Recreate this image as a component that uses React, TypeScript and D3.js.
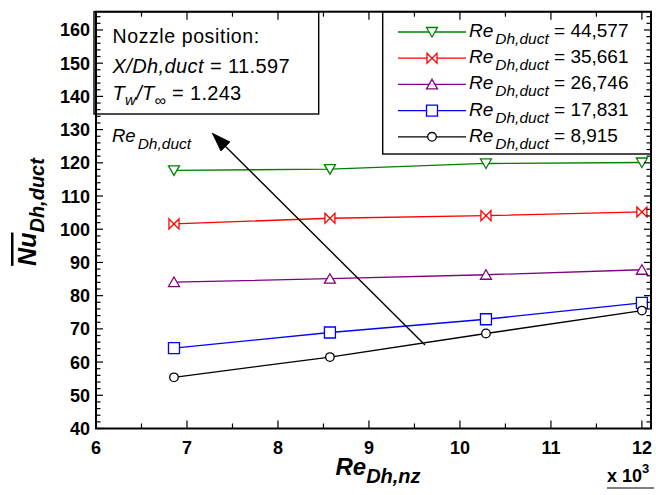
import React from "react";
import * as d3 from "d3";

const reNz = [6.857, 8.571, 10.286, 12.0];
const nu44577 = [117.7, 118.1, 119.8, 120.1];
const nu35661 = [101.6, 103.3, 104.1, 105.2];
const nu26746 = [84.1, 85.1, 86.3, 87.8];
const nu17831 = [64.2, 68.9, 72.9, 77.8];
const nu8915 = [55.4, 61.5, 68.6, 75.5];

const seriesLabels = ["44,577", "35,661", "26,746", "17,831", "8,915"];
const seriesColors = ["#008000", "#ff0000", "#800080", "#0000ff", "#000000"];
const seriesMarkers = ["triDown", "bowtie", "triUp", "square", "circle"];
const seriesValues = [nu44577, nu35661, nu26746, nu17831, nu8915];

const xTicks = [6, 7, 8, 9, 10, 11, 12];
const xMinor = [6.5, 7.5, 8.5, 9.5, 10.5, 11.5];
const yTicks = [40, 50, 60, 70, 80, 90, 100, 110, 120, 130, 140, 150, 160];
const yMinor = d3.range(40, 166, 2).filter((v) => v % 10 !== 0);

const FONT = "Arial, 'Liberation Sans', Helvetica, sans-serif";

function markerPath(kind: string): string {
  switch (kind) {
    case "triDown":
      return "M-5.5,-4.5L5.5,-4.5L0,5Z";
    case "triUp":
      return "M0,-5L5.5,4.5L-5.5,4.5Z";
    case "bowtie":
      return "M-5,-5L5,5L5,-5L-5,5Z";
    case "square":
      return "M-5.5,-5.5H5.5V5.5H-5.5Z";
    default: {
      const p = d3.path();
      p.arc(0, 0, 4.3, 0, Math.PI * 2);
      p.closePath();
      return p.toString();
    }
  }
}

export default function App() {
  const x = d3.scaleLinear().domain([6, 12.1]).range([96, 651]);
  const y = d3.scaleLinear().domain([40, 165.5]).range([428.5, 11.7]);
  const [x0, x1] = x.range();
  const [y0, y1] = y.range();

  const line = d3
    .line<[number, number]>()
    .x((d) => x(d[0]))
    .y((d) => y(d[1]));

  const legX = 382.7;
  const legBottom = 154;
  const rowY = (i: number) => 32 + i * 26.2;

  return (
    <svg
      width={656}
      height={495}
      style={{ position: "absolute", left: 0, top: 0, background: "#fff" }}
      fontFamily={FONT}
    >
      <rect x={0} y={0} width={656} height={495} fill="#fff" />

      {/* series */}
      {seriesValues.map((vals, si) => {
        const pts = reNz.map((r, i) => [r, vals[i]] as [number, number]);
        return (
          <g key={si}>
            <path d={line(pts) || ""} fill="none" stroke={seriesColors[si]} strokeWidth={1.3} />
            {pts.map((p, i) => (
              <path
                key={i}
                d={markerPath(seriesMarkers[si])}
                transform={`translate(${x(p[0])},${y(p[1])})`}
                fill="#fff"
                stroke={seriesColors[si]}
                strokeWidth={1.3}
              />
            ))}
          </g>
        );
      })}

      {/* arrow */}
      <defs>
        <marker id="ah" viewBox="0 0 20 14" refX={18} refY={7} markerWidth={20} markerHeight={14} markerUnits="userSpaceOnUse" orient="auto">
          <path d="M0,0L20,7L0,14Z" fill="#000" />
        </marker>
      </defs>
      <line x1={425} y1={345} x2={213} y2={134} stroke="#000" strokeWidth={1.4} markerEnd="url(#ah)" />

      <text x={112} y={142} fontSize={18.5} fontStyle="italic">
        Re
        <tspan dx={2} dy={7} fontSize={15.5}>Dh,duct</tspan>
      </text>

      {/* annotation box */}
      <rect x={94} y={y1} width={318.7 - 94} height={114 - y1} fill="#fff" stroke="#000" strokeWidth={1.4} />
      <text x={112.5} y={43.3} fontSize={19.5} letterSpacing={0.6}>Nozzle position:</text>
      <text x={112.5} y={72.7} fontSize={20} letterSpacing={0.4}>
        <tspan fontStyle="italic">X/Dh,duct</tspan>
        <tspan> = 11.597</tspan>
      </text>
      <text x={112.5} y={100} fontSize={20} letterSpacing={0.3}>
        <tspan fontStyle="italic">T</tspan>
        <tspan fontStyle="italic" fontSize={15} dy={5}>w</tspan>
        <tspan fontStyle="italic" dy={-5}>/T</tspan>
        <tspan fontStyle="italic" fontSize={16} dy={6}>∞</tspan>
        <tspan dy={-6}> = 1.243</tspan>
      </text>

      {/* legend */}
      <rect x={legX} y={y1} width={x1 - legX} height={legBottom - y1} fill="#fff" stroke="#000" strokeWidth={1.4} />
      {seriesLabels.map((lab, i) => {
        const ry = rowY(i);
        return (
          <g key={lab}>
            <line x1={398} x2={466} y1={ry} y2={ry} stroke={seriesColors[i]} strokeWidth={1.3} />
            <path
              d={markerPath(seriesMarkers[i])}
              transform={`translate(432,${ry})`}
              fill="#fff"
              stroke={seriesColors[i]}
              strokeWidth={1.3}
            />
            <text x={469} y={ry + 5} fontSize={19}>
              <tspan fontStyle="italic">Re</tspan>
              <tspan fontStyle="italic" fontSize={15.5} dx={2} dy={7}>Dh,duct</tspan>
              <tspan dy={-7}> = {lab}</tspan>
            </text>
          </g>
        );
      })}

      {/* frame */}
      <rect x={x0} y={y1} width={x1 - x0} height={y0 - y1} fill="none" stroke="#000" strokeWidth={2} />

      {/* x ticks */}
      {xTicks.map((t) => (
        <g key={"xt" + t}>
          <line x1={x(t)} x2={x(t)} y1={y0} y2={y0 - 8} stroke="#000" strokeWidth={1.2} />
          <line x1={x(t)} x2={x(t)} y1={y1} y2={y1 + 8} stroke="#000" strokeWidth={1.2} />
          <text x={x(t)} y={454} textAnchor="middle" fontSize={18} fontWeight="bold">{t}</text>
        </g>
      ))}
      {xMinor.map((t) => (
        <g key={"xm" + t}>
          <line x1={x(t)} x2={x(t)} y1={y0} y2={y0 - 5} stroke="#000" strokeWidth={1.2} />
          <line x1={x(t)} x2={x(t)} y1={y1} y2={y1 + 5} stroke="#000" strokeWidth={1.2} />
        </g>
      ))}

      {/* y ticks */}
      {yTicks.map((t) => (
        <g key={"yt" + t}>
          <line x1={x0} x2={x0 + 7} y1={y(t)} y2={y(t)} stroke="#000" strokeWidth={1.2} />
          <line x1={x1} x2={x1 - 7} y1={y(t)} y2={y(t)} stroke="#000" strokeWidth={1.2} />
          <text x={90} y={y(t)} dy="0.36em" textAnchor="end" fontSize={18} fontWeight="bold">{t}</text>
        </g>
      ))}
      {yMinor.map((t) => (
        <g key={"ym" + t}>
          <line x1={x0} x2={x0 + 4.5} y1={y(t)} y2={y(t)} stroke="#000" strokeWidth={1.2} />
          <line x1={x1} x2={x1 - 4.5} y1={y(t)} y2={y(t)} stroke="#000" strokeWidth={1.2} />
        </g>
      ))}

      {/* axis titles */}
      <text x={378} y={475} textAnchor="middle" fontSize={24} fontWeight="bold" fontStyle="italic">
        Re
        <tspan fontSize={20} dy={8}>Dh,nz</tspan>
      </text>
      <text
        transform="translate(36,212) rotate(-90)"
        textAnchor="middle"
        fontSize={25}
        fontWeight="bold"
        fontStyle="italic"
      >
        <tspan textDecoration="overline">Nu</tspan>
        <tspan fontSize={20} dy={8}>Dh,duct</tspan>
      </text>

      {/* x 10^3 */}
      <text x={607} y={482} fontSize={18} fontWeight="bold">
        x 10
        <tspan fontSize={13} dy={-9}>3</tspan>
      </text>
      <line x1={607} x2={654} y1={488} y2={488} stroke="#000" strokeWidth={1.2} />
    </svg>
  );
}
